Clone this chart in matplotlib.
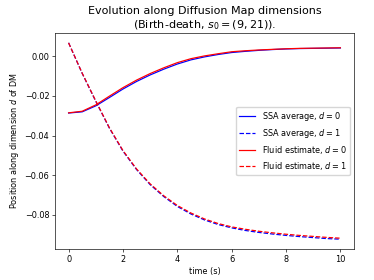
import matplotlib
matplotlib.use('Agg')
import matplotlib.pyplot as plt

# Values
time = [0, 0.5, 1, 1.5, 2, 2.5, 3, 3.5, 4, 4.5, 5, 5.5, 6, 6.5, 7, 7.5, 8, 8.5, 9, 9.5, 10]

fluid_d0 = [-0.0285, -0.0277, -0.0245, -0.0201, -0.0158, -0.0120, -0.0087, -0.0058,
            -0.0032, -0.0012, 0.0002, 0.0013, 0.0023, 0.0028, 0.0032, 0.0035, 0.0038,
            0.0040, 0.0041, 0.0042, 0.0043]
fluid_d1 = [0.0068, -0.0085, -0.0225, -0.0360, -0.0475, -0.0568, -0.0643, -0.0703,
            -0.0752, -0.0790, -0.0820, -0.0843, -0.0860, -0.0872, -0.0882, -0.0890,
            -0.0897, -0.0903, -0.0908, -0.0913, -0.0917]

ssa_d0 = [-0.0286, -0.0280, -0.0250, -0.0208, -0.0165, -0.0127, -0.0094, -0.0065,
          -0.0039, -0.0018, -0.0003, 0.0009, 0.0019, 0.0025, 0.0030, 0.0034, 0.0037,
          0.0039, 0.0040, 0.0041, 0.0042]
ssa_d1 = [0.0068, -0.0086, -0.0227, -0.0362, -0.0478, -0.0571, -0.0647, -0.0707,
          -0.0757, -0.0795, -0.0825, -0.0848, -0.0865, -0.0878, -0.0888, -0.0896,
          -0.0903, -0.0909, -0.0914, -0.0919, -0.0922]

s = 374 / 640  # picture is a shrunk default-size figure
plt.rcParams.update({
    'font.size': 10 * s,
    'lines.linewidth': 1.5 * s,
    'axes.linewidth': 0.8 * s,
    'axes.labelpad': 4 * s,
    'xtick.major.width': 0.8 * s,
    'ytick.major.width': 0.8 * s,
    'xtick.major.size': 3.5 * s,
    'ytick.major.size': 3.5 * s,
    'xtick.major.pad': 3.5 * s,
    'ytick.major.pad': 3.5 * s,
    'legend.fontsize': 10 * s,
})

dpi = 100
fig = plt.figure(figsize=(3.74, 2.80), dpi=dpi)
ax = fig.add_axes([55 / 374, 31 / 280, 299 / 374, 216 / 280])

ax.plot(time, ssa_d0, 'b-', label='SSA average, $d = 0$')
ax.plot(time, ssa_d1, 'b--', label='SSA average, $d = 1$')
ax.plot(time, fluid_d0, 'r-', label='Fluid estimate, $d = 0$')
ax.plot(time, fluid_d1, 'r--', label='Fluid estimate, $d = 1$')

ax.set_title('Evolution along Diffusion Map dimensions\n(Birth-death, $s_0 = (9, 21)$).',
             fontsize=8, pad=3.5)
ax.set_xlabel('time (s)')
ax.set_ylabel('Position along dimension $d$ of DM')
ax.set_xticks([0, 2, 4, 6, 8, 10])
ax.set_yticks([0.0, -0.02, -0.04, -0.06, -0.08])
ax.legend(loc='center right')

fig.savefig('out.png', dpi=dpi)
